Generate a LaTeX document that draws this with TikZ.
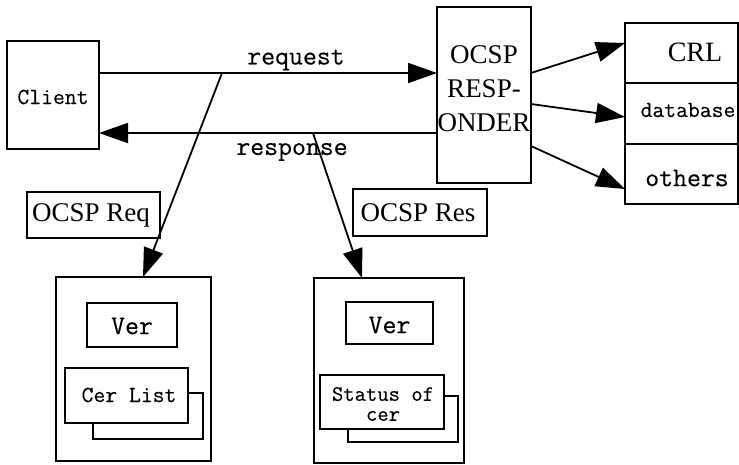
\documentclass[tikz,border=0pt]{standalone}
\usepackage{fontspec}
\setmainfont{Liberation Serif}
\setmonofont{Latin Modern Mono}[FakeBold=0.3]
\usetikzlibrary{arrows.meta}
\begin{document}
\begin{tikzpicture}[x=1pt,y=-1pt,
  box/.style={draw,line width=1.8pt,fill=white,inner sep=0pt,outer sep=0pt,rectangle},
  arr/.style={line width=1.8pt,-{Triangle[length=29pt,width=20pt]}},
  mono/.style={font=\ttfamily\fontsize{23}{24}\selectfont,inner sep=0pt},
  monob/.style={font=\ttfamily\fontsize{27}{28}\selectfont,inner sep=0pt},
  serif/.style={font=\fontsize{27}{34}\selectfont,inner sep=0pt}]
\useasboundingbox (0,0) rectangle (739,464);
% top row
\node[box,minimum width=92pt,minimum height=108pt] (client) at (53,95) {};
\node[mono] (clientt) at (53,97) {Client};
\node[box,minimum width=94pt,minimum height=176pt] (resp) at (484,95) {};
\node[serif,align=center] (respt) at (484,89) {OCSP\\RESP-\\ONDER};
\node[box,minimum width=113pt,minimum height=60pt] (crl) at (681.5,53) {};
\node[box,minimum width=113pt,minimum height=61pt] (db) at (681.5,113.5) {};
\node[box,minimum width=113pt,minimum height=60pt] (oth) at (681.5,174) {};
\node[serif,font=\fontsize{28}{30}\selectfont] (crlt) at (695,52) {CRL};
\node[mono] (dbt) at (688,110) {database};
\node[monob] (otht) at (687,178) {others};
% message boxes
\node[box,minimum width=133pt,minimum height=46pt] (oreq) at (93.5,215) {};
\node[serif] (oreqt) at (91,215) {OCSP Req};
\node[box,minimum width=134pt,minimum height=47pt] (ores) at (420,212.5) {};
\node[serif] (orest) at (418,212.5) {OCSP Res};
% left lower structure
\node[box,minimum width=155pt,minimum height=184pt] (lbox) at (133.5,369) {};
\node[box,minimum width=90pt,minimum height=44pt] (ver1) at (132,325) {};
\node[monob] (ver1t) at (132,326) {Ver};
\node[box,minimum width=110pt,minimum height=46pt] (cls) at (148,416) {};
\node[box,minimum width=123pt,minimum height=55pt] (cl) at (126.5,395.5) {};
\node[mono] (clt) at (129,395) {Cer List};
% right lower structure
\node[box,minimum width=150pt,minimum height=185pt] (rbox) at (389,370.5) {};
\node[box,minimum width=87pt,minimum height=42pt] (ver2) at (389.5,323) {};
\node[monob] (ver2t) at (389.5,325) {Ver};
\node[box,minimum width=110pt,minimum height=46pt] (sts) at (403,419) {};
\node[box,minimum width=124pt,minimum height=54pt] (st) at (382,402) {};
\node[mono,font=\ttfamily\fontsize{22}{20}\selectfont,align=center] (stt) at (383,404) {Status of\\cer};
% connectors
\coordinate (rq) at (222,73);
\coordinate (rs) at (313,133);
\coordinate (t1) at (143,277);
\coordinate (t2) at (362,278);
\draw[arr] (client.east |- rq) -- (resp.west |- rq);
\draw[arr] (resp.west |- rs) -- (client.east |- rs);
\node[monob] (reql) at (296,60) {request};
\node[monob] (resl) at (292,152) {response};
\draw[arr] (rq) -- (t1);
\draw[arr] (rs) -- (t2);
\coordinate (a1) at (531,73);
\coordinate (a2) at (531,104);
\coordinate (a3) at (531,146);
\draw[arr] (a1) -- (crl.west |- 0,43);
\draw[arr] (a2) -- (db.west |- 0,117);
\draw[arr] (a3) -- (oth.west |- 0,189);
\end{tikzpicture}
\end{document}
